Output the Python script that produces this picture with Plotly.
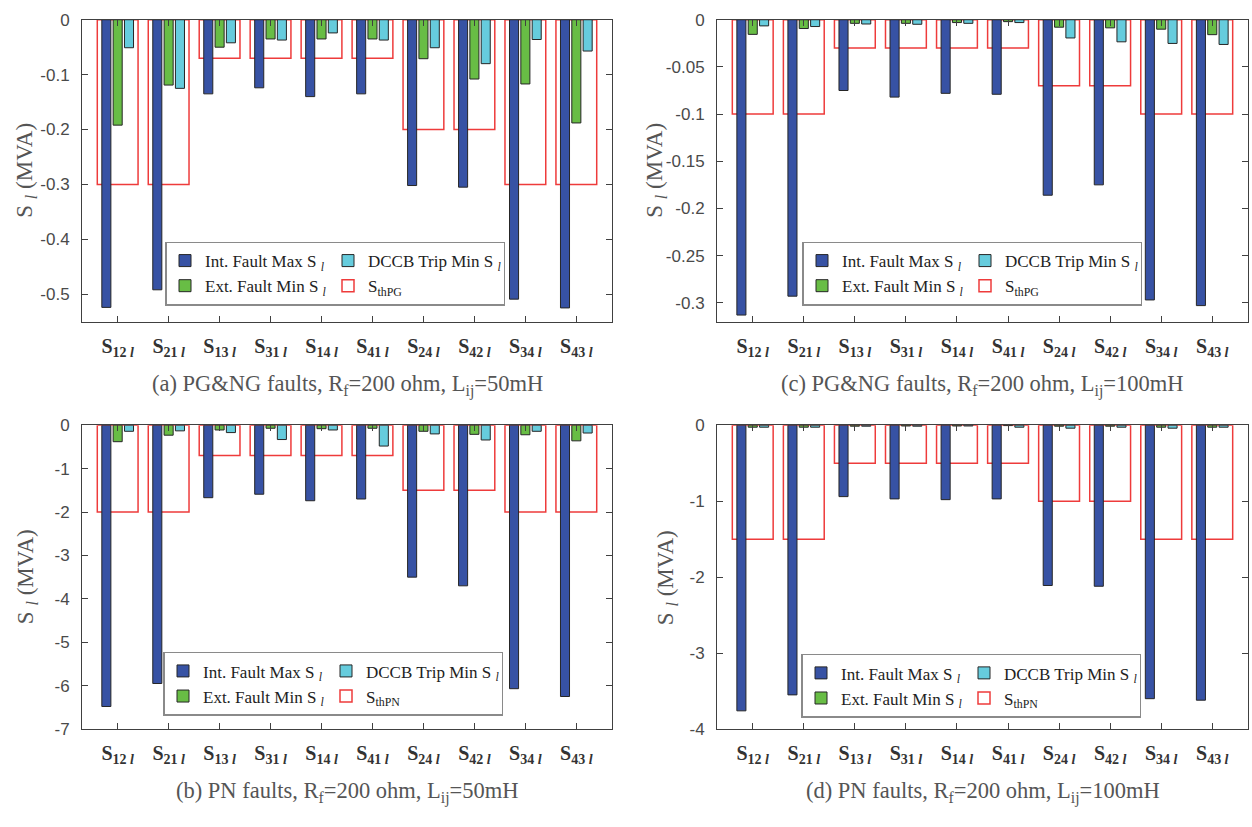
import plotly.graph_objects as go

W, H = 1252, 827

# Line pairs (i, j) on the x axis
pairs = ["12", "21", "13", "31", "14", "41", "24", "42", "34", "43"]
tick_labels = [f"<b>S<sub>{p} <i>l</i></sub></b>" for p in pairs]

# (a) PG&NG faults, Rf=200 ohm, Lij=50mH
int_a = [-0.524, -0.492, -0.135, -0.124, -0.140, -0.135, -0.302, -0.305, -0.509, -0.525]
ext_a = [-0.192, -0.119, -0.050, -0.035, -0.035, -0.035, -0.071, -0.108, -0.117, -0.188]
dccb_a = [-0.051, -0.125, -0.042, -0.037, -0.024, -0.037, -0.051, -0.080, -0.036, -0.057]
th_a = [-0.3, -0.3, -0.07, -0.07, -0.07, -0.07, -0.2, -0.2, -0.3, -0.3]

# (c) PG&NG faults, Rf=200 ohm, Lij=100mH
int_c = [-0.313, -0.293, -0.075, -0.082, -0.078, -0.079, -0.186, -0.175, -0.297, -0.303]
ext_c = [-0.0155, -0.0093, -0.0038, -0.0038, -0.0030, -0.0020, -0.0079, -0.0086, -0.0100, -0.0158]
dccb_c = [-0.0065, -0.0072, -0.0045, -0.0048, -0.0038, -0.0030, -0.0193, -0.0234, -0.0251, -0.0262]
th_c = [-0.1, -0.1, -0.03, -0.03, -0.03, -0.03, -0.07, -0.07, -0.1, -0.1]

# (b) PN faults, Rf=200 ohm, Lij=50mH
int_b = [-6.48, -5.95, -1.67, -1.59, -1.74, -1.70, -3.50, -3.70, -6.07, -6.25]
ext_b = [-0.38, -0.23, -0.11, -0.07, -0.08, -0.07, -0.14, -0.21, -0.22, -0.36]
dccb_b = [-0.14, -0.13, -0.17, -0.33, -0.11, -0.48, -0.20, -0.34, -0.14, -0.18]
th_b = [-2.0, -2.0, -0.7, -0.7, -0.7, -0.7, -1.5, -1.5, -2.0, -2.0]

# (d) PN faults, Rf=200 ohm, Lij=100mH
int_d = [-3.76, -3.55, -0.94, -0.97, -0.98, -0.97, -2.11, -2.12, -3.60, -3.62]
ext_d = [-0.026, -0.026, -0.013, -0.010, -0.010, -0.005, -0.013, -0.013, -0.026, -0.026]
dccb_d = [-0.026, -0.026, -0.013, -0.013, -0.010, -0.026, -0.039, -0.026, -0.039, -0.026]
th_d = [-1.5, -1.5, -0.5, -0.5, -0.5, -0.5, -1.0, -1.0, -1.5, -1.5]

# y ticks per panel
yt_a = [0, -0.1, -0.2, -0.3, -0.4, -0.5]
yl_a = ["0", "-0.1", "-0.2", "-0.3", "-0.4", "-0.5"]
yt_c = [0, -0.05, -0.1, -0.15, -0.2, -0.25, -0.3]
yl_c = ["0", "-0.05", "-0.1", "-0.15", "-0.2", "-0.25", "-0.3"]
yt_b = [0, -1, -2, -3, -4, -5, -6, -7]
yl_b = ["0", "-1", "-2", "-3", "-4", "-5", "-6", "-7"]
yt_d = [0, -1, -2, -3, -4]
yl_d = ["0", "-1", "-2", "-3", "-4"]

y_title = "S <sub><i>l</i></sub> (MVA)"
captions = {
    "a": "(a) PG&amp;NG faults, R<sub>f</sub>=200 ohm, L<sub>ij</sub>=50mH",
    "b": "(b) PN faults, R<sub>f</sub>=200 ohm, L<sub>ij</sub>=50mH",
    "c": "(c) PG&amp;NG faults, R<sub>f</sub>=200 ohm, L<sub>ij</sub>=100mH",
    "d": "(d) PN faults, R<sub>f</sub>=200 ohm, L<sub>ij</sub>=100mH",
}

BLUE = "#3752A4"
GREEN = "#68BD45"
CYAN = "#66CCDD"
RED = "#EE3B3B"
EDGE = "#262626"
AXC = "#404040"
SERIF = "Liberation Serif, Times New Roman, serif"
SANS = "Liberation Sans, Arial, sans-serif"

# group spacing as in a 3-bar grouped bar chart
n_series = 3
group_w = min(0.8, n_series / (n_series + 1.5))
step = group_w / n_series
bar_w = step * 0.8
pos = list(range(1, len(pairs) + 1))

# panel boxes in pixels: (left, right, top, bottom); legend top-left corner;
# x position of the rotated y-axis title
panels = {
    "a": dict(box=(82, 612, 11, 320), data=(int_a, ext_a, dccb_a, th_a), yr=(-0.55, 0),
              yt=(yt_a, yl_a), th="S<sub>thPG</sub>", leg=(165, 238), ytx=26),
    "c": dict(box=(717, 1248, 11, 320), data=(int_c, ext_c, dccb_c, th_c), yr=(-0.32, 0),
              yt=(yt_c, yl_c), th="S<sub>thPG</sub>", leg=(802, 238), ytx=656),
    "b": dict(box=(82, 612, 426, 737), data=(int_b, ext_b, dccb_b, th_b), yr=(-7, 0),
              yt=(yt_b, yl_b), th="S<sub>thPN</sub>", leg=(163, 658), ytx=27),
    "d": dict(box=(717, 1248, 426, 737), data=(int_d, ext_d, dccb_d, th_d), yr=(-4, 0),
              yt=(yt_d, yl_d), th="S<sub>thPN</sub>", leg=(801, 660), ytx=667),
}

# legend column widths (px): first column narrower than its text so the
# second column starts close after it
COL1_W, COL2_W = 118, 130

fig = go.Figure()
layout = {}
annotations = []

for k, (key, p) in enumerate(panels.items()):
    idx = "" if k == 0 else str(k + 1)
    xa, ya = "x" + idx, "y" + idx
    leg = "legend" + idx
    vint, vext, vdccb, vth = p["data"]
    l, r, t, b = p["box"]

    # threshold boxes go first so they sit behind the bars
    fig.add_trace(go.Bar(
        x=pos, y=vth, width=0.8, name=p["th"], xaxis=xa, yaxis=ya,
        marker=dict(color="rgba(255,255,255,0)", line=dict(color=RED, width=1.5)),
        legend=leg, legendgroup=key + "2", legendrank=4, legendwidth=COL2_W,
    ))
    series = [
        (vint, BLUE, "Int. Fault Max S <sub><i>l</i></sub>", -1, key + "1", 1, COL1_W),
        (vext, GREEN, "Ext. Fault Min S <sub><i>l</i></sub>", 0, key + "1", 2, COL1_W),
        (vdccb, CYAN, "DCCB Trip Min S <sub><i>l</i></sub>", 1, key + "2", 3, COL2_W),
    ]
    for vals, col, name, off, grp, rank, lw in series:
        fig.add_trace(go.Bar(
            x=[q + off * step for q in pos], y=vals, width=bar_w, name=name,
            xaxis=xa, yaxis=ya,
            marker=dict(color=col, line=dict(color=EDGE, width=1)),
            legend=leg, legendgroup=grp, legendrank=rank, legendwidth=lw,
        ))

    layout["xaxis" + idx] = dict(
        domain=[l / W, r / W], anchor=ya, range=[0.3, 10.7],
        tickvals=pos, ticktext=tick_labels, ticks="inside", ticklen=6,
        tickcolor=AXC, showline=True, linecolor=AXC, linewidth=1, mirror="ticks",
        showgrid=False, zeroline=False, ticklabelstandoff=6,
        tickfont=dict(family=SERIF, size=20, color="#333333"),
    )
    yt, yl = p["yt"]
    layout["yaxis" + idx] = dict(
        domain=[1 - b / H, 1 - t / H], anchor=xa, range=list(p["yr"]),
        tickvals=yt, ticktext=yl, ticks="inside", ticklen=6,
        tickcolor=AXC, showline=True, linecolor=AXC, linewidth=1, mirror="ticks",
        showgrid=False, zeroline=False, ticklabelstandoff=8,
        tickfont=dict(family=SANS, size=17, color="#4a4a4a"),
    )
    lx, ly = p["leg"]
    layout[leg] = dict(
        x=lx / W, y=1 - ly / H, xref="paper", yref="paper",
        xanchor="left", yanchor="top", orientation="h", traceorder="grouped",
        tracegroupgap=0, itemwidth=30, bgcolor="white",
        bordercolor="#8a8a8a", borderwidth=1.5,
        font=dict(family=SERIF, size=17, color="#222222"),
    )
    # rotated y-axis title
    annotations.append(dict(
        text=y_title, x=p["ytx"] / W, y=1 - (t + b) / 2 / H, textangle=-90,
        xref="paper", yref="paper", xanchor="center", yanchor="middle",
        showarrow=False, font=dict(family=SERIF, size=23, color="#555555"),
    ))
    cap_y = 385 if key in ("a", "c") else 802
    annotations.append(dict(
        text=captions[key], x=(l + r) / 2 / W, y=1 - cap_y / H,
        xref="paper", yref="paper", xanchor="center", yanchor="middle",
        showarrow=False, font=dict(family=SERIF, size=22.5, color="#555555"),
    ))

fig.update_layout(
    width=W, height=H, margin=dict(l=0, r=0, t=0, b=0),
    paper_bgcolor="white", plot_bgcolor="white",
    barmode="overlay", showlegend=True, annotations=annotations,
    **layout,
)

fig.write_html("out.html")
